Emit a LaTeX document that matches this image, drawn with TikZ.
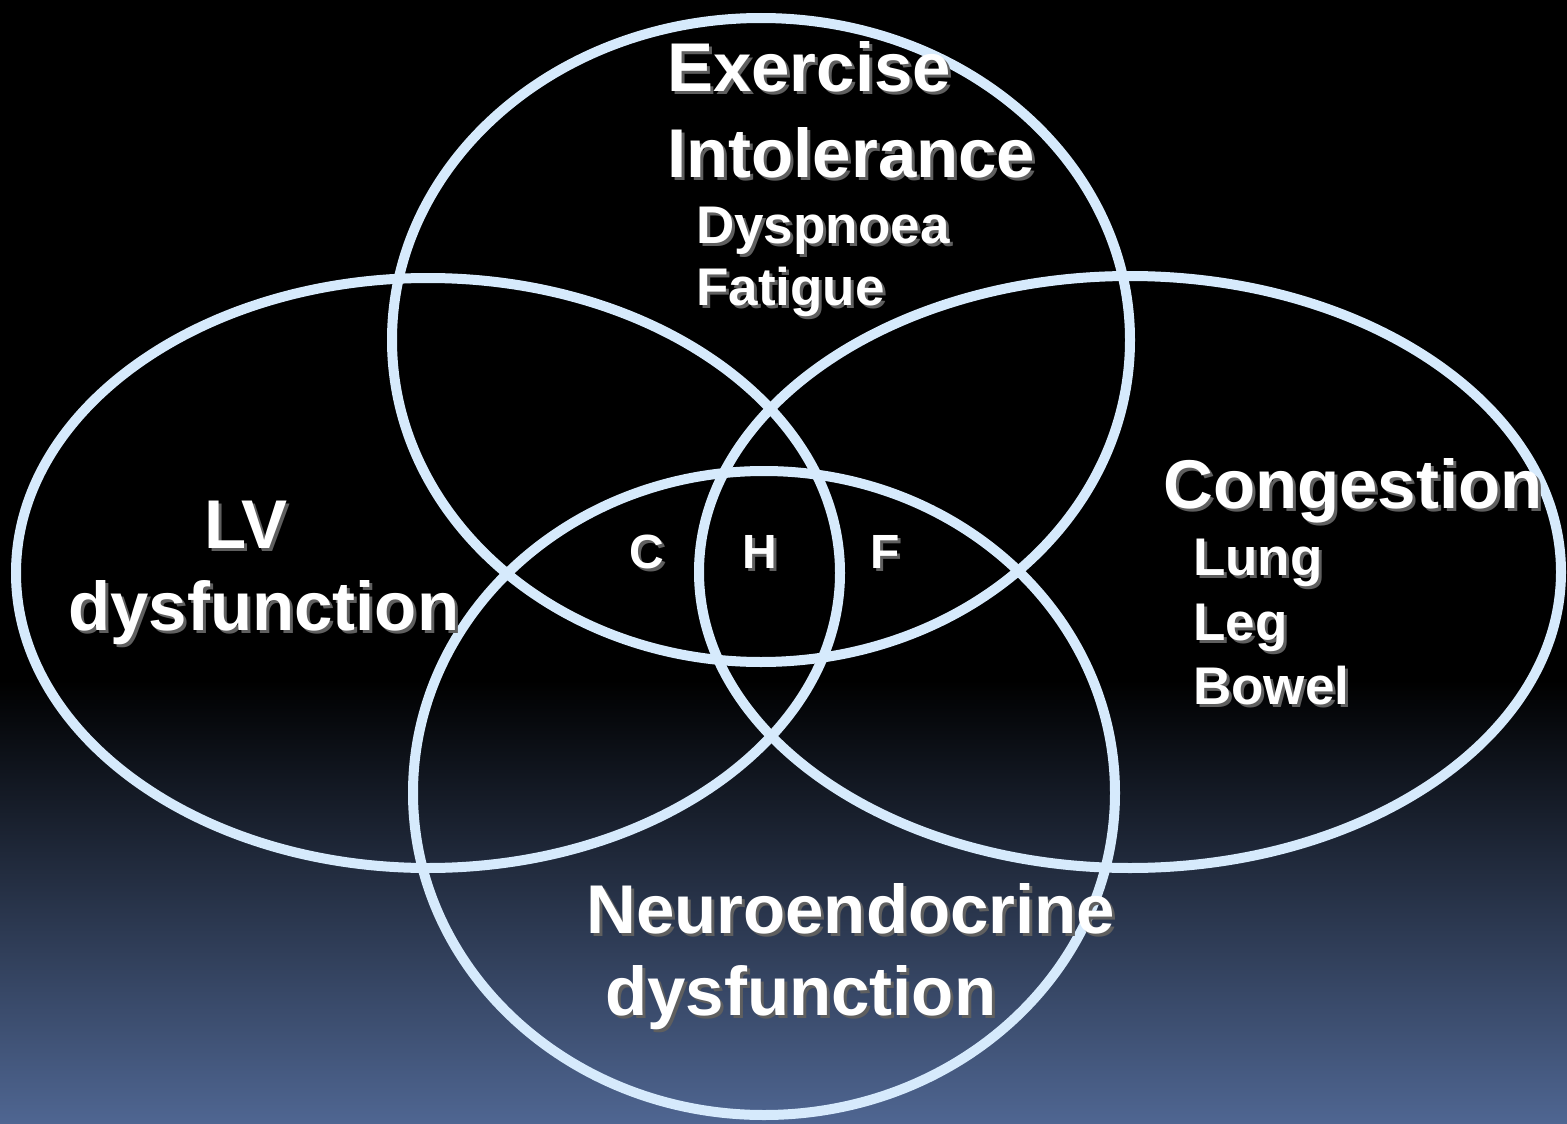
\documentclass[tikz,border=0pt]{standalone}
\usepackage{fontspec}
\setmainfont{Liberation Sans}
\definecolor{ring}{RGB}{214,234,252}
\definecolor{bgblue}{RGB}{79,102,146}
\definecolor{shadowc}{RGB}{95,95,95}
\newcommand{\bigsz}{\fontsize{69}{69}\selectfont\bfseries}
\newcommand{\smallsz}{\fontsize{53}{53}\selectfont\bfseries}
\newcommand{\midsz}{\fontsize{48}{48}\selectfont\bfseries}
\begin{document}
\begin{tikzpicture}[x=1pt,y=-1pt,
  ringline/.style={draw=ring,line width=10pt},
  lbl/.style={text=white,inner sep=0pt,anchor=base west},
  shd/.style={text=shadowc,inner sep=0pt,anchor=base west},
  clbl/.style={text=white,inner sep=0pt,anchor=base},
  cshd/.style={text=shadowc,inner sep=0pt,anchor=base}]
\useasboundingbox (0,0) rectangle (1567,1124);
\fill[black] (0,0) rectangle (1567,1124);
\shade[top color=black,bottom color=bgblue] (0,680) rectangle (1567,1124);
% rings
\draw[ringline] (761,340) ellipse [x radius=369pt, y radius=322pt];
\draw[ringline] (428,573) ellipse [x radius=412pt, y radius=295pt];
\draw[ringline] (1130,572) ellipse [x radius=431pt, y radius=296pt];
\draw[ringline] (764,793) ellipse [x radius=351pt, y radius=322pt];
% labels with shadows
\foreach \dx/\sty/\csty in {3/shd/cshd,0/lbl/clbl}{
  \begin{scope}[shift={(\dx,\dx)}]
  \node[\sty] (ex\dx) at (667,92) {\bigsz Exercise};
  \node[\sty] (in\dx) at (667,177) {\bigsz Intolerance};
  \node[\sty] (dy\dx) at (696,243) {\smallsz Dyspnoea};
  \node[\sty] (fa\dx) at (696,305) {\smallsz Fatigue};
  \node[\sty] (lv\dx) at (204,548) {\bigsz LV};
  \node[\sty] (lvd\dx) at (68,630) {\bigsz dysfunction};
  \node[\sty] (co\dx) at (1163,508) {\bigsz Congestion};
  \node[\sty] (lu\dx) at (1193,575) {\smallsz Lung};
  \node[\sty] (le\dx) at (1193,640) {\smallsz Leg};
  \node[\sty] (bo\dx) at (1193,704) {\smallsz Bowel};
  \node[\csty] (c\dx) at (647,568) {\midsz C};
  \node[\csty] (h\dx) at (760,568) {\midsz H};
  \node[\csty] (f\dx) at (885,568) {\midsz F};
  \node[\sty] (ne\dx) at (586,933) {\bigsz Neuroendocrine};
  \node[\sty] (nd\dx) at (605,1015) {\bigsz dysfunction};
  \end{scope}
}
\end{tikzpicture}
\end{document}
